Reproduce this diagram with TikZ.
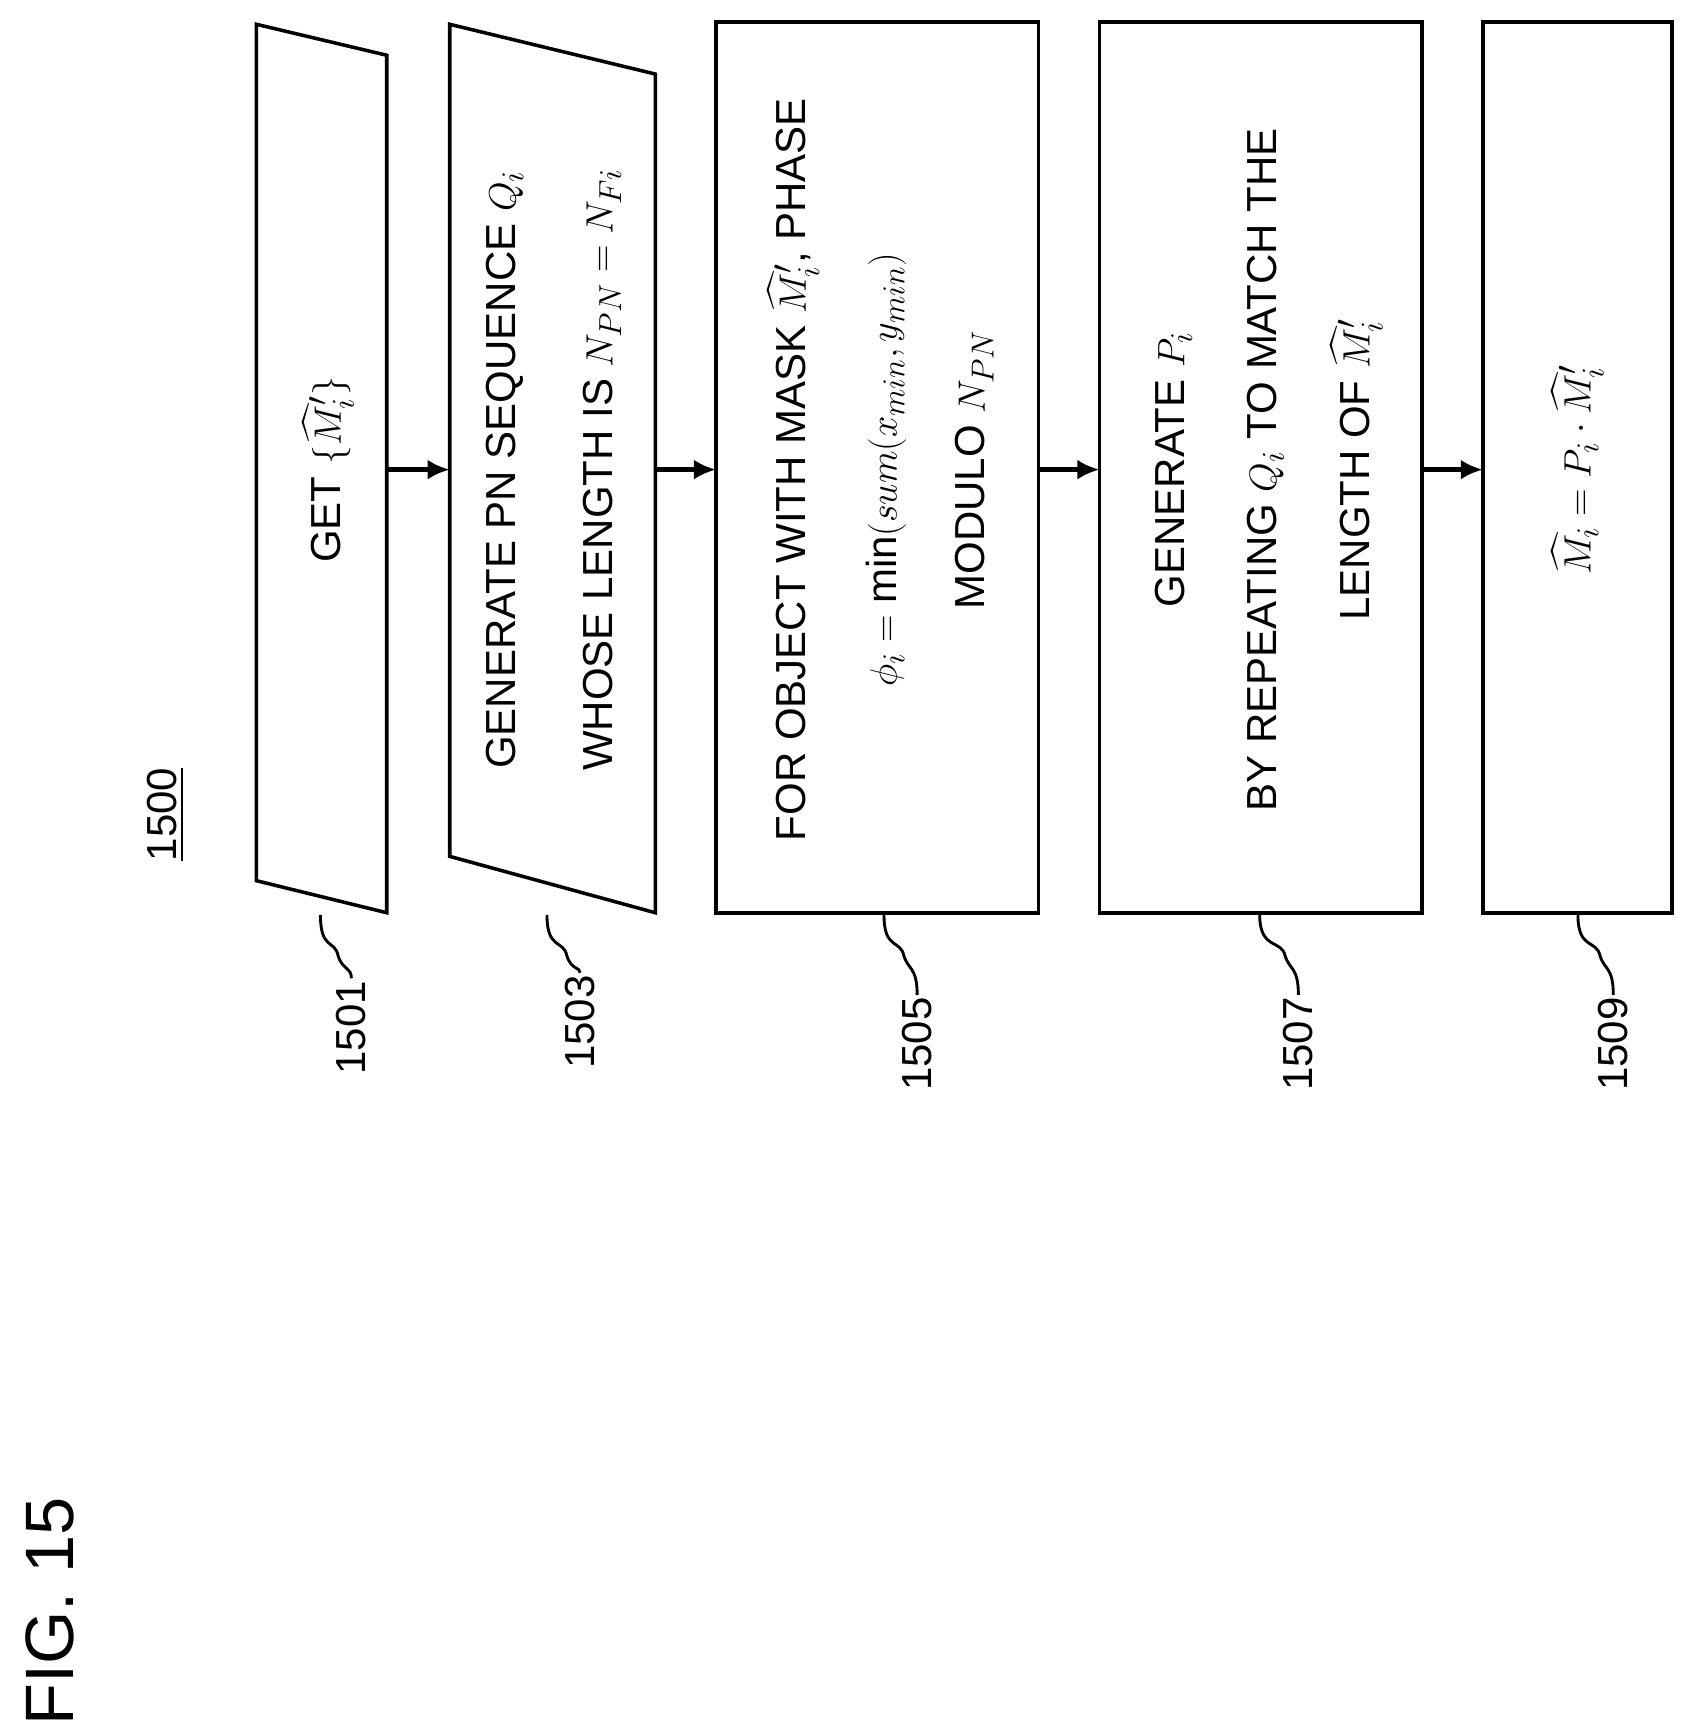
\documentclass[tikz,border=0pt]{standalone}
\usepackage{amsmath}
\usepackage{fontspec}
\setmainfont{Liberation Sans}
\usetikzlibrary{arrows.meta}

\begin{document}
\begin{tikzpicture}[x=0.5pt,y=-0.5pt]
\tikzset{box/.style={line width=1.6pt},
  flow/.style={line width=2pt,-{Latex[length=10pt,width=9pt]}},
  lead/.style={line width=1.3pt},
  txt/.style={rotate=90,font=\fontsize{19}{23}\selectfont,inner sep=0pt},
  ref/.style={rotate=90,font=\fontsize{19}{23}\selectfont,inner sep=1pt}}
\useasboundingbox (0,0) rectangle (1530,1562);

%Shapes
\draw [box] (232,22) -- (350,50) -- (350,826) -- (232,797) -- cycle;
\draw [box] (407,22) -- (593,67) -- (593,826) -- (407,775) -- cycle;
\draw [box] (648,20) rectangle (940,826);
\draw [box] (995,20) rectangle (1287,826);
\draw [box] (1342,20) rectangle (1513,826);

%Connectors
\coordinate (a1) at (350,425); \coordinate (b1) at (407,425);
\coordinate (a2) at (593,425); \coordinate (b2) at (648,425);
\coordinate (a3) at (940,425); \coordinate (b3) at (995,425);
\coordinate (a4) at (1287,425); \coordinate (b4) at (1342,425);
\foreach \i in {1,...,4} \draw [flow] (a\i) -- (b\i);

%Texts
\node [txt] (t1) at (297,425) {GET $\{{\widehat{M}'}_i\}$};
\node [txt] (t2) at (457,425) {GENERATE PN SEQUENCE $Q_i$};
\node [txt] (t3) at (545,425) {WHOSE LENGTH IS $N_{PN}=N_{Fi}$};
\node [txt] (t4) at (718,425) {FOR OBJECT WITH MASK ${\widehat{M}'}_i$, PHASE};
\node [txt] (t5) at (802,425) {$\phi_i=\min(sum(x_{min},y_{min})$};
\node [txt] (t6) at (882,425) {MODULO $N_{PN}$};
\node [txt] (t7) at (1062,425) {GENERATE $P_i$};
\node [txt] (t8) at (1145,425) {BY REPEATING $Q_i$ TO MATCH THE};
\node [txt] (t9) at (1228,425) {LENGTH OF ${\widehat{M}'}_i$};
\node [txt] (t10) at (1428,425) {$\widehat{M}_i=P_i\cdot{\widehat{M}'}_i$};

%Reference labels
\node [ref] (r0) at (150,737) {\underline{1500}};
\foreach \n/\x/\y/\bx in {1501/318/930/290, 1503/525/925/495, 1505/830/945/800, 1507/1175/945/1140, 1509/1460/945/1428} {
  \node [ref] (l\n) at (\x,\y) {\n};
  \draw [lead] (\bx,828) .. controls (\bx,860) and (\x-15,850) .. (\x-12,865) .. controls (\x-8,878) and (\x,875) .. (l\n.east);
}
\node [rotate=90,font=\fontsize{31}{35}\selectfont] (fig) at (45,1458) {FIG. 15};
\end{tikzpicture}
\end{document}
